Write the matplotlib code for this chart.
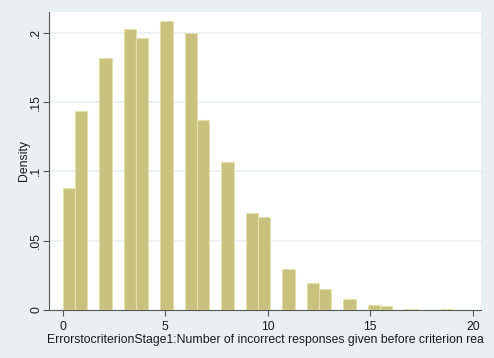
import matplotlib
matplotlib.use("Agg")
import matplotlib.pyplot as plt

# Histogram bins (left edges, in data units) and densities
bin_left = [0.0, 0.595, 1.79, 2.975, 3.57, 4.76, 5.95, 6.545, 7.735, 8.925,
            9.52, 10.71, 11.9, 12.495, 13.685, 14.875, 15.47, 16.66, 18.445]
density = [0.0877, 0.1436, 0.1821, 0.2030, 0.1965, 0.2086, 0.2001, 0.1368,
           0.1065, 0.0696, 0.0667, 0.0292, 0.0195, 0.0147, 0.0077, 0.0036,
           0.0029, 0.0007, 0.0007]
bin_width = 0.595

xticks = [0, 5, 10, 15, 20]
xticklabels = ["0", "5", "10", "15", "20"]
yticks = [0, 0.05, 0.1, 0.15, 0.2]
yticklabels = ["0", ".05", ".1", ".15", ".2"]
xlabel = "ErrorstocriterionStage1:Number of incorrect responses given before criterion rea"
ylabel = "Density"

plt.rcParams['font.family'] = ['Liberation Sans', 'DejaVu Sans']

bg = "#E9F0F2"
fig = plt.figure(figsize=(4.94, 3.58), dpi=100, facecolor=bg)
ax = fig.add_axes([49/494, 1 - 309.7/358, 432/494, 297.4/358])
ax.set_facecolor("white")

ax.bar(bin_left, density, width=bin_width, align="edge",
       color="#C9C27E", edgecolor="#E4E0AE", linewidth=0.8, zorder=3)

ax.set_xlim(-0.668, 20.4)
ax.set_ylim(0, 0.2149)

for y in yticks[1:]:
    ax.axhline(y, color="#EAF1F3", linewidth=1.2, zorder=1)

fs = 8.8
ax.set_xticks(xticks)
ax.set_xticklabels(xticklabels, fontsize=fs)
ax.set_yticks(yticks)
ax.set_yticklabels(yticklabels, fontsize=fs, rotation=90, va="center")
ax.tick_params(axis="both", direction="out", length=4, width=0.8,
               color="#555555", labelcolor="#1a1a1a")
ax.tick_params(axis="x", pad=4)
ax.tick_params(axis="y", pad=1)

for s in ["top", "right"]:
    ax.spines[s].set_visible(False)
for s in ["left", "bottom"]:
    ax.spines[s].set_color("#555555")
    ax.spines[s].set_linewidth(0.8)

ax.set_xlabel(xlabel, fontsize=fs, color="#1a1a1a", labelpad=1)
ax.set_ylabel(ylabel, fontsize=fs, color="#1a1a1a", labelpad=0)

fig.savefig("out.png", dpi=100, facecolor=bg)
